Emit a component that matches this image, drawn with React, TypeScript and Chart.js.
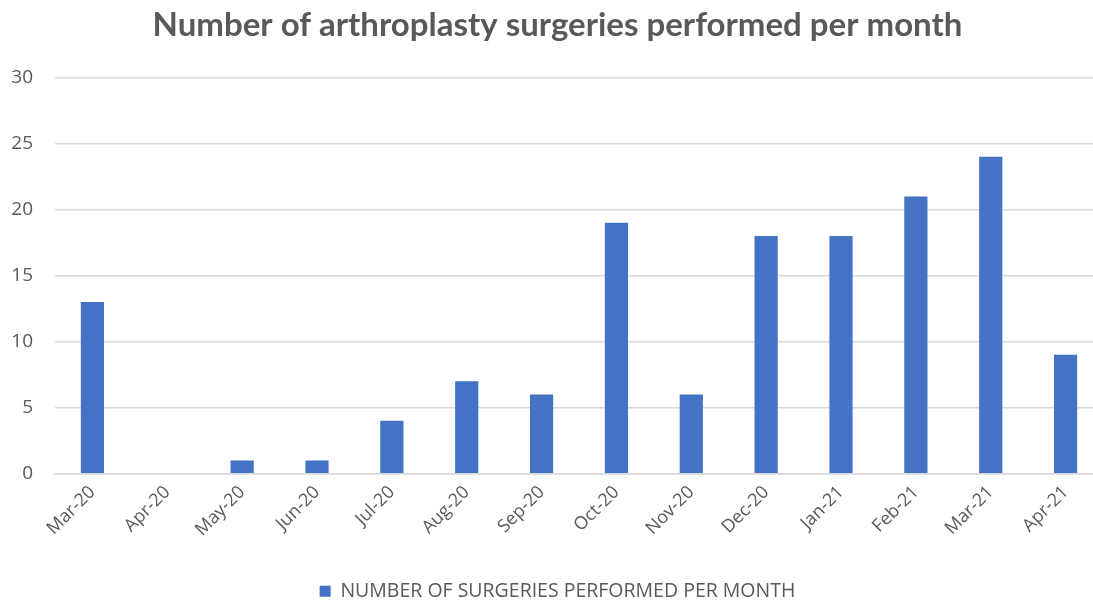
import React, { useEffect, useRef } from "react";
import { Chart, registerables } from "chart.js";

Chart.register(...registerables);

const months = ["Mar-20", "Apr-20", "May-20", "Jun-20", "Jul-20", "Aug-20", "Sep-20", "Oct-20", "Nov-20", "Dec-20", "Jan-21", "Feb-21", "Mar-21", "Apr-21"];
const surgeries = [13, 0, 1, 1, 4, 7, 6, 19, 6, 18, 18, 21, 24, 9];
const seriesLabel = "NUMBER OF SURGERIES PERFORMED PER MONTH";
const chartTitle = "Number of arthroplasty surgeries performed per month";

export default function App() {
  const ref = useRef<HTMLCanvasElement | null>(null);
  useEffect(() => {
    if (!ref.current) return;
    const chart = new Chart(ref.current, {
      type: "bar",
      data: {
        labels: months,
        datasets: [
          {
            label: seriesLabel,
            data: surgeries,
            backgroundColor: "#4472C4",
            borderWidth: 0,
            barPercentage: 1,
            categoryPercentage: 0.31,
          },
        ],
      },
      options: {
        animation: false,
        responsive: false,
        layout: { padding: { left: 12, right: 19, top: 6, bottom: 0 } },
        plugins: {
          title: {
            display: true,
            text: chartTitle,
            color: "#595959",
            font: { family: "Lato", size: 33, weight: "bold" },
            padding: { top: 0, bottom: 32 },
          },
          legend: {
            position: "bottom",
            labels: {
              color: "#595959",
              font: { family: "Open Sans", size: 19.5 },
              boxWidth: 11,
              boxHeight: 11,
              padding: 3,
            },
          },
          tooltip: { enabled: false },
        },
        scales: {
          x: {
            grid: { display: false, drawTicks: false },
            border: { display: true, color: "#d9d9d9", width: 1.5 },
            ticks: {
              color: "#595959",
              font: { family: "Open Sans", size: 18 },
              maxRotation: 45,
              minRotation: 45,
              padding: 8,
            },
            afterFit: (scale: any) => {
              scale.height += 30;
              scale.paddingLeft = 0;
            },
          },
          y: {
            min: 0,
            max: 30,
            ticks: {
              stepSize: 5,
              color: "#595959",
              font: { family: "Open Sans", size: 19 },
              padding: 22,
            },
            grid: { color: "#d9d9d9", lineWidth: 1.5, drawTicks: false },
            border: { display: false },
            afterFit: (scale: any) => {
              scale.width = 43;
            },
          },
        },
      },
    });
    return () => chart.destroy();
  }, []);
  return (
    <div style={{ position: "fixed", left: 0, top: 0, width: 1093, height: 602, overflow: "hidden", background: "#fff" }}>
      <canvas ref={ref} width={1122} height={611} style={{ position: "absolute", left: 0, top: 0, width: 1122, height: 611 }} />
    </div>
  );
}
